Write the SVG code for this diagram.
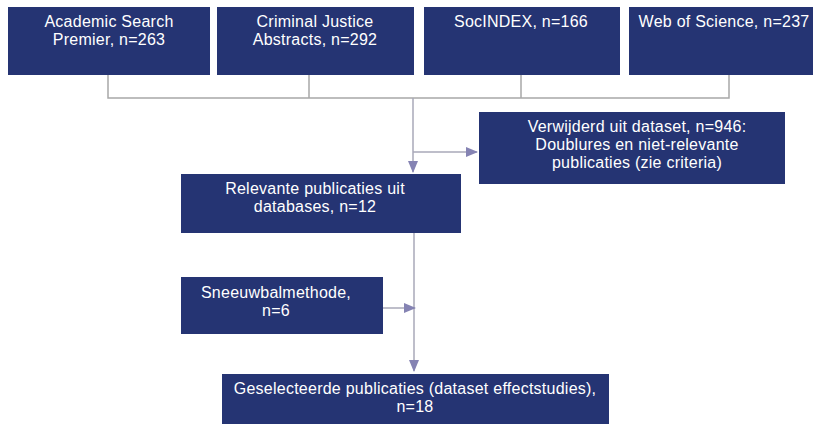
<svg xmlns="http://www.w3.org/2000/svg" width="815" height="425" viewBox="0 0 815 425">
<style>
.box{fill:#253473;}
.t{font-family:"Liberation Sans",Arial,sans-serif;font-size:16px;letter-spacing:0.25px;fill:#ffffff;text-anchor:middle;}
.br{stroke:#a8a8a8;stroke-width:1.5;fill:none;}
.ar{stroke:#a8a8b8;stroke-width:1.5;fill:none;}
</style>
<defs>
<marker id="ah" markerWidth="12" markerHeight="10" refX="11" refY="5" orient="auto" markerUnits="userSpaceOnUse">
<path d="M0,0 L12,5 L0,10 Z" fill="#8583b3"/>
</marker>
</defs>
<rect width="815" height="425" fill="#ffffff"/>
<g id="connectors">
<path class="br" d="M108,75 V98 H729 V71 M309,75 V98 M521,75 V98"/>
<path class="ar" d="M413,98 V172" marker-end="url(#ah)"/>
<path class="ar" d="M413,152 H477" marker-end="url(#ah)"/>
<path class="ar" d="M414,233 V371" marker-end="url(#ah)"/>
<path class="ar" d="M383,308 H415" marker-end="url(#ah)"/>
</g>
<g id="n1"><rect class="box" x="8" y="7" width="202" height="68"/><text class="t" x="109" y="27">Academic Search</text><text class="t" x="109" y="45">Premier, n=263</text></g>
<g id="n2"><rect class="box" x="217" y="7" width="197" height="68"/><text class="t" x="315" y="27">Criminal Justice</text><text class="t" x="315" y="45">Abstracts, n=292</text></g>
<g id="n3"><rect class="box" x="424" y="7" width="196" height="68"/><text class="t" x="521" y="27">SocINDEX, n=166</text></g>
<g id="n4"><rect class="box" x="629" y="7" width="184" height="68"/><text class="t" x="724" y="27">Web of Science, n=237</text></g>
<g id="n5"><rect class="box" x="479" y="112" width="306" height="72"/><text class="t" x="637" y="132">Verwijderd uit dataset, n=946:</text><text class="t" x="637" y="150">Doublures en niet-relevante</text><text class="t" x="637" y="168">publicaties (zie criteria)</text></g>
<g id="n6"><rect class="box" x="181" y="174" width="280" height="59"/><text class="t" x="315" y="194">Relevante publicaties uit</text><text class="t" x="315" y="212">databases, n=12</text></g>
<g id="n7"><rect class="box" x="181" y="277" width="202" height="57"/><text class="t" x="276" y="298">Sneeuwbalmethode,</text><text class="t" x="276" y="316">n=6</text></g>
<g id="n8"><rect class="box" x="222" y="374" width="387" height="50"/><text class="t" x="415" y="394">Geselecteerde publicaties (dataset effectstudies),</text><text class="t" x="415" y="412">n=18</text></g>
</svg>
